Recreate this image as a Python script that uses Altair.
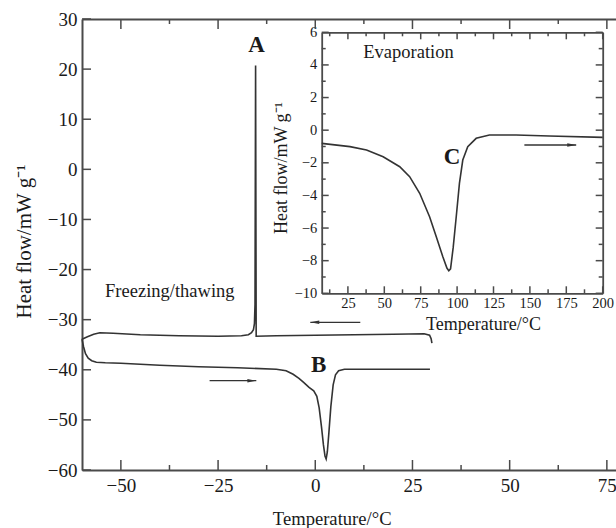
import altair as alt
import pandas as pd

# ---------------- data ----------------
# Freezing run (cooling), in acquisition order 30 -> -60 degC
cool_t = [30.0, 29.8, 29.4, 28.0, 20.0, 10.0, 0.0, -10.0, -15.2, -15.35, -15.5, -15.65,
          -15.9, -16.4, -17.2, -19.0, -25.0, -35.0, -45.0, -52.0, -55.4, -57.0, -58.6, -60.0]
cool_q = [-34.7, -33.8, -33.1, -32.8, -32.9, -33.0, -33.1, -33.2, -33.3, 20.7, -27.0, -30.8,
          -32.0, -32.6, -33.0, -33.2, -33.3, -33.2, -33.0, -32.7, -32.6, -32.9, -33.4, -33.9]
# Thawing run (heating), -60 -> 30 degC
heat_t = [-60.0, -59.6, -59.1, -58.4, -57.5, -56.3, -54.0, -50.0, -40.0, -30.0, -20.0, -10.0,
          -7.5, -5.7, -4.2, -3.0, -1.6, -0.4, 0.4, 1.0, 1.6, 2.1, 2.5, 2.8, 3.1, 3.5, 4.0,
          4.6, 5.2, 6.0, 7.5, 15.0, 29.5]
heat_q = [-33.9, -35.4, -36.8, -37.7, -38.2, -38.5, -38.6, -38.7, -39.1, -39.4, -39.6, -39.9,
          -40.2, -40.9, -41.7, -42.5, -43.5, -44.2, -45.3, -47.6, -51.4, -55.0, -57.2, -57.8,
          -56.4, -52.6, -47.4, -43.0, -41.0, -40.2, -39.9, -39.9, -39.9]
# Evaporation run (inset)
evap_t = [7, 26.4, 37.8, 49.2, 60.6, 67.4, 74.3, 81.1, 85.7, 90.2, 93.0, 94.3, 95.5, 97.3,
          99.4, 101.6, 103.9, 107.3, 113.1, 122.2, 140.5, 163.3, 200]
evap_q = [-0.81, -1.01, -1.22, -1.63, -2.24, -2.85, -3.87, -5.31, -6.53, -7.76, -8.45, -8.62,
          -8.5, -7.2, -5.31, -3.26, -1.83, -1.01, -0.5, -0.30, -0.30, -0.36, -0.44]

# tick values
main_x_major = [-50, -25, 0, 25, 50, 75]
main_x_minor = [-37.5, -12.5, 12.5, 37.5, 62.5]
main_y_major = [-60, -50, -40, -30, -20, -10, 0, 10, 20, 30]
inset_x_major = [25, 50, 75, 100, 125, 150, 175, 200]
inset_x_minor = [12.5, 37.5, 62.5, 87.5, 112.5, 137.5, 162.5, 187.5]
inset_y_major = [-10, -8, -6, -4, -2, 0, 2, 4, 6]
inset_y_minor = [-9, -7, -5, -3, -1, 1, 3, 5]

# annotations
main_lab_text = ["A", "B"]
main_lab_t = [-15.12, 0.85]
main_lab_q = [23.35, -40.38]
note_text = ["Freezing/thawing"]
note_t = [-37.42]
note_q = [-25.54]
inset_lab_text = ["C"]
inset_lab_t = [96.5]
inset_lab_q = [-2.07]
inset_note_text = ["Evaporation"]
inset_note_t = [66.6]
inset_note_q = [4.41]
# arrows: tail, tip, level
main_arrow_tail = [11.58, -27.18]
main_arrow_tip = [-1.28, -15.17]
main_arrow_q = [-30.53, -42.18]
inset_arrow_tail = [146.2]
inset_arrow_tip = [181.8]
inset_arrow_q = [-0.91]

# ---------------- layout / style ----------------
W, H = 534, 451
IX0, IX1 = 239.7, 520.7   # inset box in plot pixels
IY0, IY1 = 13.3, 274.3
FONT = "Liberation Serif"
AX = "#4a4a4a"
LINE = "#333333"
TXT = "#1a1a1a"

mx = alt.Scale(domain=[-60, 77.35], nice=False, zero=False)
my = alt.Scale(domain=[-60, 30], nice=False, zero=False)
ix = alt.Scale(domain=[7, 200], range=[IX0, IX1], nice=False, zero=False)
iy = alt.Scale(domain=[-10, 6], range=[IY1, IY0], nice=False, zero=False)


def frame_axis(orient, offset=0, dw=2):
    return alt.Axis(orient=orient, labels=False, title=None, grid=False, ticks=False,
                    domain=True, domainColor=AX, domainWidth=dw, offset=offset)


def xticks(values, scale, y0, length):
    return alt.Chart(pd.DataFrame({"v": values})).mark_rule(color=AX, strokeWidth=1.5).encode(
        x=alt.X("v:Q", scale=scale, axis=None),
        y=alt.value(y0), y2=alt.value(y0 + length))


def yticks(values, scale, x0, length):
    return alt.Chart(pd.DataFrame({"v": values})).mark_rule(color=AX, strokeWidth=1.5).encode(
        y=alt.Y("v:Q", scale=scale, axis=None),
        x=alt.value(x0), x2=alt.value(x0 + length))


main_df = pd.DataFrame({
    "t": cool_t + heat_t,
    "q": cool_q + heat_q,
    "run": ["cool"] * len(cool_t) + ["heat"] * len(heat_t),
    "i": list(range(len(cool_t))) + list(range(len(heat_t))),
})
evap_df = pd.DataFrame({"t": evap_t, "q": evap_q, "i": list(range(len(evap_t)))})
main_dummy = pd.DataFrame({"t": [0.0], "q": [0.0]})
inset_dummy = pd.DataFrame({"t": [100.0], "q": [0.0]})


def dummy(df, sx, sy, ax_x, ax_y):
    return alt.Chart(df).mark_point(opacity=0).encode(
        x=alt.X("t:Q", scale=sx, axis=ax_x),
        y=alt.Y("q:Q", scale=sy, axis=ax_y),
    )


# ---- main curves with labelled axes ----
main_curves = alt.Chart(main_df).mark_line(color=LINE, strokeWidth=1.6).encode(
    x=alt.X("t:Q", scale=mx, axis=alt.Axis(
        orient="bottom", values=main_x_major, ticks=False, grid=False,
        domainColor=AX, domainWidth=2, labelFont=FONT, labelFontSize=19, labelColor=TXT,
        labelPadding=6, labelFlush=False, labelOverlap=False,
        title="Temperature/°C", titleFont=FONT, titleFontSize=18.6, titleFontWeight="normal",
        titleColor=TXT, titleX=249.7, titleY=54, titleAlign="center",
        titleBaseline="alphabetic")),
    y=alt.Y("q:Q", scale=my, axis=alt.Axis(
        orient="left", values=main_y_major, ticks=False, grid=False,
        domainColor=AX, domainWidth=2, labelFont=FONT, labelFontSize=19, labelColor=TXT,
        labelPadding=5, labelFlush=False, labelOverlap=False,
        title="Heat flow/mW g⁻¹", titleFont=FONT, titleFontSize=21, titleFontWeight="normal",
        titleColor=TXT, titleX=-52, titleY=222, titleAlign="center", titleAngle=270,
        titleBaseline="alphabetic")),
    detail="run:N",
    order="i:Q",
)

main_top_frame = dummy(main_dummy, mx, my, frame_axis("top"), None)
main_ticks = [
    xticks(main_x_major, mx, H, -10),
    xticks(main_x_minor, mx, H, -5),
    xticks(main_x_major, mx, 0, 10),
    xticks(main_x_minor, mx, 0, 5),
    yticks(main_y_major, my, 0, 9),
]

main_labels = alt.Chart(pd.DataFrame({"t": main_lab_t, "q": main_lab_q, "s": main_lab_text})).mark_text(
    font=FONT, fontSize=23, fontWeight="bold", color=TXT, baseline="alphabetic", align="center"
).encode(x=alt.X("t:Q", scale=mx, axis=None), y=alt.Y("q:Q", scale=my, axis=None), text="s:N")

main_note = alt.Chart(pd.DataFrame({"t": note_t, "q": note_q, "s": note_text})).mark_text(
    font=FONT, fontSize=18.5, color=TXT, baseline="alphabetic", align="center"
).encode(x=alt.X("t:Q", scale=mx, axis=None), y=alt.Y("q:Q", scale=my, axis=None), text="s:N")

# arrows (main)
arr_rows = []
for k in range(len(main_arrow_tail)):
    arr_rows.append({"t": main_arrow_tail[k], "q": main_arrow_q[k], "a": k})
    arr_rows.append({"t": main_arrow_tip[k], "q": main_arrow_q[k], "a": k})
main_arrow_lines = alt.Chart(pd.DataFrame(arr_rows)).mark_line(color=LINE, strokeWidth=1.3).encode(
    x=alt.X("t:Q", scale=mx, axis=None), y=alt.Y("q:Q", scale=my, axis=None), detail="a:N")
head_df = pd.DataFrame({
    "t": main_arrow_tip, "q": main_arrow_q,
    "dir": ["L" if main_arrow_tip[k] < main_arrow_tail[k] else "R" for k in range(len(main_arrow_tip))],
})
LEFT_HEAD = "M0,0L2,-0.4L2,0.4Z"
RIGHT_HEAD = "M0,0L-2,-0.4L-2,0.4Z"
main_heads = alt.Chart(head_df).mark_point(filled=True, color=LINE, opacity=1, size=80, strokeWidth=0).encode(
    x=alt.X("t:Q", scale=mx, axis=None), y=alt.Y("q:Q", scale=my, axis=None),
    shape=alt.Shape("dir:N", scale=alt.Scale(domain=["L", "R"], range=[LEFT_HEAD, RIGHT_HEAD]), legend=None),
)

# ---- inset ----
OFF_B = -(H - IY1)
OFF_L = -IX0
OFF_T = -IY0
OFF_R = -(W - IX1)

inset_curve = alt.Chart(evap_df).mark_line(color=LINE, strokeWidth=1.6).encode(
    x=alt.X("t:Q", scale=ix, axis=alt.Axis(
        orient="bottom", offset=OFF_B, values=inset_x_major, ticks=False, grid=False,
        domainColor=AX, domainWidth=1.8, labelFont=FONT, labelFontSize=14.5, labelColor=TXT,
        labelPadding=3, labelFlush=False, labelOverlap=False,
        title="Temperature/°C", titleFont=FONT, titleFontSize=18, titleFontWeight="normal",
        titleColor=TXT, titleX=401, titleY=35.7, titleAlign="center",
        titleBaseline="alphabetic")),
    y=alt.Y("q:Q", scale=iy, axis=alt.Axis(
        orient="left", offset=OFF_L, values=inset_y_major, ticks=False, grid=False,
        domainColor=AX, domainWidth=1.8, labelFont=FONT, labelFontSize=14.5, labelColor=TXT,
        labelPadding=5, labelFlush=False, labelOverlap=False,
        title="Heat flow/mW g⁻¹", titleFont=FONT, titleFontSize=18, titleFontWeight="normal",
        titleColor=TXT, titleX=-35.7, titleY=148.5, titleAlign="center", titleAngle=270,
        titleBaseline="alphabetic")),
    order="i:Q",
)
inset_frame = dummy(inset_dummy, ix, iy, frame_axis("top", OFF_T, 1.8), frame_axis("right", OFF_R, 1.8))
inset_ticks = [
    xticks(inset_x_major, ix, IY1, -7),
    xticks(inset_x_minor, ix, IY1, -4),
    xticks(inset_x_major, ix, IY0, 7),
    xticks(inset_x_minor, ix, IY0, 4),
    yticks(inset_y_major, iy, IX0, 7),
    yticks(inset_y_minor, iy, IX0, 4),
    yticks(inset_y_major, iy, IX1, -7),
    yticks(inset_y_minor, iy, IX1, -4),
]

inset_label = alt.Chart(pd.DataFrame({"t": inset_lab_t, "q": inset_lab_q, "s": inset_lab_text})).mark_text(
    font=FONT, fontSize=23, fontWeight="bold", color=TXT, baseline="alphabetic", align="center"
).encode(x=alt.X("t:Q", scale=ix, axis=None), y=alt.Y("q:Q", scale=iy, axis=None), text="s:N")
inset_note = alt.Chart(pd.DataFrame({"t": inset_note_t, "q": inset_note_q, "s": inset_note_text})).mark_text(
    font=FONT, fontSize=18.5, color=TXT, baseline="alphabetic", align="center"
).encode(x=alt.X("t:Q", scale=ix, axis=None), y=alt.Y("q:Q", scale=iy, axis=None), text="s:N")

iarr_rows = []
for k in range(len(inset_arrow_tail)):
    iarr_rows.append({"t": inset_arrow_tail[k], "q": inset_arrow_q[k], "a": k})
    iarr_rows.append({"t": inset_arrow_tip[k], "q": inset_arrow_q[k], "a": k})
inset_arrow_line = alt.Chart(pd.DataFrame(iarr_rows)).mark_line(color=LINE, strokeWidth=1.3).encode(
    x=alt.X("t:Q", scale=ix, axis=None), y=alt.Y("q:Q", scale=iy, axis=None), detail="a:N")
ihead_df = pd.DataFrame({
    "t": inset_arrow_tip, "q": inset_arrow_q,
    "dir": ["L" if inset_arrow_tip[k] < inset_arrow_tail[k] else "R" for k in range(len(inset_arrow_tip))],
})
inset_heads = alt.Chart(ihead_df).mark_point(filled=True, color=LINE, opacity=1, size=80, strokeWidth=0).encode(
    x=alt.X("t:Q", scale=ix, axis=None), y=alt.Y("q:Q", scale=iy, axis=None),
    shape=alt.Shape("dir:N", scale=alt.Scale(domain=["L", "R"], range=[LEFT_HEAD, RIGHT_HEAD]), legend=None),
)

chart = alt.layer(
    main_curves, main_top_frame, *main_ticks,
    main_labels, main_note, main_arrow_lines, main_heads,
    inset_curve, inset_frame, *inset_ticks,
    inset_label, inset_note, inset_arrow_line, inset_heads,
).resolve_scale(
    x="independent", y="independent", shape="independent"
).properties(
    width=W, height=H,
    padding={"left": 82, "top": 19, "right": 0, "bottom": 58},
    autosize=alt.AutoSizeParams(type="none"),
    background="white",
).configure_view(stroke=None)

chart.save("out.html", embed_options={"renderer": "svg", "actions": False})
